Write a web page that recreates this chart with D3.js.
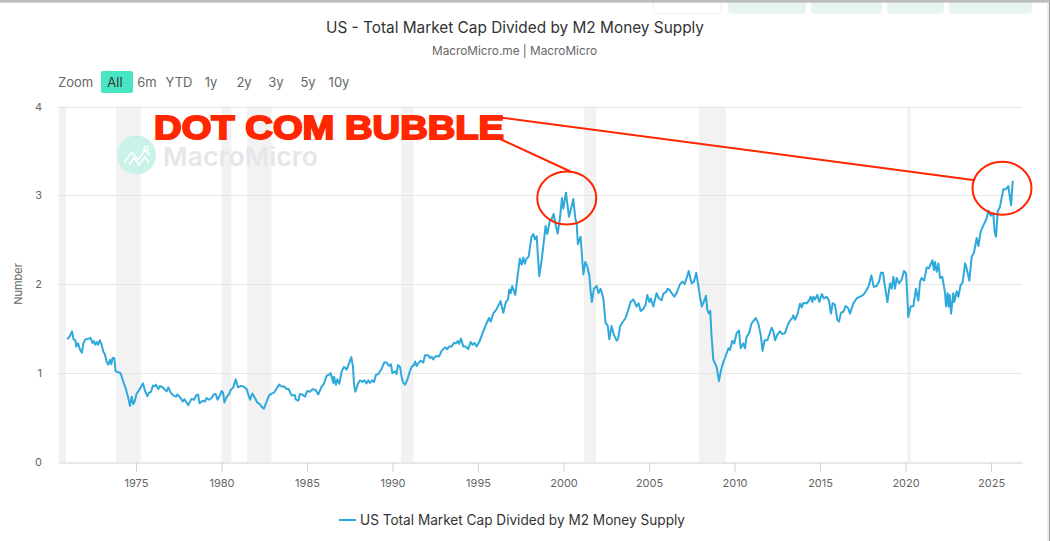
<!DOCTYPE html>
<html>
<head>
<meta charset="utf-8">
<script src="https://cdn.jsdelivr.net/npm/d3@7"></script>
<style>
html,body{margin:0;padding:0;background:#fff;overflow:hidden}
svg{display:block;font-family:Inter,"Liberation Sans",sans-serif}
</style>
</head>
<body>
<svg id="chart" width="1050" height="541"></svg>
<script>
const chartTitle = "US - Total Market Cap Divided by M2 Money Supply";
const chartSource = "MacroMicro.me | MacroMicro";
const seriesName = "US Total Market Cap Divided by M2 Money Supply";
const rangeLabels = ["All","6m","YTD","1y","2y","3y","5y","10y"];
const xTickYears = [1975,1980,1985,1990,1995,2000,2005,2010,2015,2020,2025];
const yTickValues = [0,1,2,3,4];

// US recession periods, as decimal years
const recessions = [[1970.5,1970.9],[1973.83,1975.28],[1980.0,1980.58],[1981.5,1982.92],[1990.5,1991.24],[2001.2,2001.92],[2007.92,2009.5],[2020.1,2020.32]];

const years = [1970.98,1971.14,1971.26,1971.35,1971.45,1971.51,1971.61,1971.72,1971.84,1971.92,1972.04,1972.27,1972.35,1972.45,1972.54,1972.62,1972.72,1972.78,1972.89,1972.99,
1973.09,1973.17,1973.28,1973.38,1973.48,1973.56,1973.63,1973.73,1973.81,1973.97,1974.10,1974.26,1974.38,1974.55,1974.65,1974.75,1974.84,1974.92,1975.04,1975.19,
1975.41,1975.53,1975.66,1975.76,1975.88,1975.99,1976.09,1976.17,1976.31,1976.40,1976.56,1976.70,1976.79,1976.89,1977.03,1977.18,1977.34,1977.42,1977.57,1977.73,
1977.83,1977.96,1978.06,1978.24,1978.39,1978.53,1978.63,1978.72,1978.90,1979.03,1979.13,1979.27,1979.42,1979.54,1979.66,1979.77,1979.91,1980.01,1980.09,1980.17,
1980.30,1980.46,1980.54,1980.69,1980.83,1980.96,1981.12,1981.28,1981.47,1981.67,1981.80,1981.96,1982.09,1982.25,1982.35,1982.48,1982.64,1982.78,1982.93,1983.07,
1983.23,1983.38,1983.52,1983.67,1983.81,1983.93,1984.10,1984.30,1984.34,1984.49,1984.59,1984.73,1984.88,1985.02,1985.17,1985.33,1985.51,1985.66,1985.86,1985.99,
1986.15,1986.27,1986.38,1986.54,1986.58,1986.69,1986.77,1986.89,1987.03,1987.16,1987.32,1987.46,1987.59,1987.69,1987.75,1987.83,1987.98,1988.10,1988.24,1988.35,
1988.47,1988.59,1988.68,1988.82,1988.92,1989.03,1989.17,1989.37,1989.52,1989.66,1989.79,1989.91,1989.99,1990.15,1990.24,1990.32,1990.44,
1990.53,1990.63,1990.73,1990.86,1990.98,1991.12,1991.25,1991.33,1991.41,1991.51,1991.64,1991.80,1991.90,1992.09,1992.19,1992.29,1992.38,1992.52,1992.73,1992.87,
1993.07,1993.20,1993.32,1993.46,1993.59,1993.71,1993.81,1993.89,1994.00,1994.14,1994.27,1994.43,1994.57,1994.68,1994.80,1994.92,1995.07,1995.31,1995.50,1995.64,
1995.74,1995.89,1996.09,1996.32,1996.48,1996.63,1996.75,1996.83,1996.91,1997.00,1997.18,1997.30,1997.45,1997.55,1997.65,1997.74,1997.84,1997.96,1998.13,1998.23,
1998.33,1998.43,1998.52,1998.58,1998.72,1998.86,1998.95,1999.05,1999.21,1999.30,1999.42,1999.54,1999.66,1999.79,1999.91,1999.99,2000.14,2000.32,2000.43,2000.57,
2000.69,2000.77,2000.84,2001.00,2001.16,2001.27,2001.39,2001.51,2001.58,2001.66,2001.78,2001.94,2002.05,2002.17,2002.33,2002.46,2002.58,2002.68,2002.81,2002.95,
2003.11,2003.20,2003.30,2003.44,2003.63,2003.75,2003.92,2004.08,2004.27,2004.39,2004.51,2004.66,2004.80,2004.90,2005.02,2005.11,2005.25,2005.44,2005.58,2005.74,
2005.83,2006.03,2006.09,2006.19,2006.32,2006.48,2006.61,2006.81,2006.96,2007.08,2007.20,2007.32,2007.49,2007.63,2007.76,2007.88,2007.98,2008.09,2008.17,2008.33,
2008.41,2008.50,2008.58,2008.66,2008.76,2008.86,2008.95,2009.09,
2009.21,2009.34,2009.44,2009.64,2009.73,2009.87,2009.99,2010.12,2010.26,2010.36,2010.51,2010.61,2010.71,2010.85,2011.00,2011.24,2011.39,2011.53,2011.64,2011.76,
2011.92,2012.17,2012.27,2012.37,2012.50,2012.66,2012.79,2012.95,2013.11,2013.24,2013.38,2013.44,2013.54,2013.69,2013.83,2013.93,2014.02,2014.22,2014.37,2014.45,
2014.55,2014.61,2014.71,2014.84,2014.96,2015.10,2015.23,2015.39,2015.52,2015.64,2015.74,2015.87,2016.01,2016.11,2016.23,2016.36,2016.50,2016.65,2016.75,2016.95,
2017.14,2017.34,2017.53,2017.73,2017.86,2018.00,2018.14,2018.31,2018.45,2018.56,2018.68,2018.80,2018.94,2019.09,2019.19,2019.29,2019.38,2019.48,2019.62,2019.77,
2019.91,2020.03,2020.10,2020.16,2020.30,2020.46,2020.61,2020.75,2020.85,2020.94,2021.08,2021.24,2021.37,2021.57,2021.66,2021.72,2021.82,2021.92,2022.02,2022.15,
2022.31,2022.37,2022.46,2022.52,2022.58,2022.66,2022.79,2022.85,2022.99,2023.09,2023.22,2023.34,2023.48,2023.57,2023.73,2023.87,2024.00,2024.16,2024.26,2024.39,
2024.59,2024.74,2024.84,2024.98,2025.13,2025.21,2025.29,2025.39,2025.52,2025.72,2025.87,2026.01,2026.17,2026.27];

const ratios = [1.38,1.42,1.47,1.38,1.37,1.30,1.335,1.27,1.23,1.335,1.38,1.39,1.395,1.34,1.36,1.32,1.35,1.32,1.37,1.32,
1.24,1.22,1.13,1.095,1.15,1.10,1.17,1.17,1.02,1.01,1.00,0.90,0.84,0.72,0.63,0.735,0.65,0.68,0.77,0.81,
0.885,0.80,0.74,0.78,0.79,0.86,0.85,0.87,0.82,0.855,0.84,0.81,0.795,0.84,0.78,0.75,0.735,0.76,0.73,0.68,
0.705,0.67,0.64,0.71,0.70,0.75,0.76,0.66,0.69,0.68,0.72,0.70,0.72,0.76,0.765,0.70,0.75,0.80,0.78,0.67,
0.73,0.77,0.81,0.84,0.93,0.84,0.855,0.85,0.82,0.70,0.77,0.72,0.67,0.65,0.62,0.60,0.68,0.75,0.77,0.78,
0.83,0.87,0.85,0.85,0.82,0.82,0.75,0.75,0.705,0.69,0.765,0.76,0.735,0.80,0.79,0.82,0.81,0.76,0.85,0.88,
0.97,0.98,1.00,0.89,0.96,0.87,0.93,0.88,1.02,1.07,1.04,1.11,1.18,1.07,0.87,0.79,0.88,0.92,0.90,0.92,
0.885,0.92,0.89,0.92,0.90,0.98,0.99,1.05,1.12,1.12,1.08,1.10,1.00,1.02,0.99,1.09,1.07,
0.96,0.89,0.87,0.92,1.00,1.07,1.09,1.13,1.08,1.11,1.14,1.12,1.20,1.20,1.17,1.185,1.155,1.19,1.19,1.25,
1.29,1.27,1.30,1.30,1.34,1.335,1.36,1.33,1.39,1.30,1.30,1.27,1.35,1.32,1.34,1.30,1.35,1.47,1.56,1.62,
1.58,1.67,1.72,1.81,1.68,1.80,1.83,1.94,1.90,1.98,1.88,2.07,2.29,2.22,2.30,2.23,2.29,2.31,2.535,2.565,
2.505,2.54,2.27,2.09,2.27,2.50,2.655,2.565,2.72,2.73,2.79,2.67,2.57,2.74,2.97,2.85,3.03,2.76,2.84,2.96,
2.74,2.685,2.45,2.535,2.11,2.25,2.20,2.10,1.935,1.80,1.95,1.98,1.90,1.95,1.84,1.56,1.54,1.38,1.53,1.43,
1.365,1.39,1.52,1.57,1.62,1.69,1.80,1.83,1.75,1.785,1.70,1.72,1.77,1.88,1.80,1.84,1.75,1.90,1.84,1.82,
1.89,1.92,1.95,1.94,1.90,1.86,1.90,2.00,2.03,2.00,2.07,2.15,2.01,2.03,2.13,1.99,1.86,1.75,1.785,1.87,
1.71,1.67,1.70,1.41,1.15,1.11,1.07,0.91,
1.035,1.12,1.17,1.28,1.26,1.365,1.335,1.45,1.48,1.28,1.335,1.28,1.41,1.45,1.56,1.62,1.56,1.43,1.25,1.37,
1.37,1.51,1.47,1.37,1.43,1.47,1.44,1.45,1.54,1.59,1.62,1.65,1.60,1.67,1.78,1.74,1.79,1.785,1.82,1.86,
1.80,1.86,1.83,1.88,1.80,1.89,1.84,1.86,1.82,1.67,1.785,1.77,1.60,1.58,1.68,1.69,1.755,1.73,1.67,1.785,
1.84,1.86,1.88,1.935,1.99,2.10,1.97,1.98,2.03,2.13,2.13,1.97,1.80,2.01,1.95,2.085,1.95,2.07,2.01,2.05,
2.15,2.12,1.88,1.63,1.75,1.755,1.95,1.815,2.03,2.07,2.04,2.19,2.18,2.27,2.16,2.25,2.14,2.235,2.07,2.085,
1.90,1.75,1.90,1.75,1.88,1.67,1.90,1.80,1.92,1.86,1.99,2.02,2.235,2.18,2.04,2.31,2.355,2.52,2.43,2.59,
2.68,2.74,2.83,2.77,2.80,2.59,2.535,2.82,2.87,3.07,3.07,3.105,2.89,3.165];

// Callouts placed in data space: circled peaks, leader lines and the headline
const calloutCircles = [{year:2000.19, value:2.97},{year:2025.64, value:3.08}];
const calloutLines = [
  {from:[1996.17,3.88], to:[2024.06,3.17]},
  {from:[1996.23,3.64], to:[2000.5,3.26]}
];
const calloutText = {label:"DOT COM BUBBLE", year:1976.06, value:3.63};

const W = 1050, H = 541;
const plot = {left:58, right:1022, top:106.5, bottom:462};
const x = d3.scaleLinear().domain([1970.44,2026.81]).range([plot.left,plot.right]);
const y = d3.scaleLinear().domain([0,4]).range([plot.bottom,plot.top]);
const svg = d3.select("#chart");
const RED = "#ff2600";

// Window chrome along the top and right edges
svg.append("rect").attr("width",W).attr("height",H).attr("fill","#fff");
svg.append("rect").attr("x",653.5).attr("y",-6).attr("width",68).attr("height",19.5).attr("rx",4)
  .attr("fill","#fff").attr("stroke","#eeeeee");
[[728,78],[811,71],[887,57],[949,83]].forEach(([bx,bw])=>{
  svg.append("rect").attr("x",bx).attr("y",-6).attr("width",bw).attr("height",20).attr("rx",4).attr("fill","#e8f4f1");
});
svg.append("rect").attr("x",1047).attr("width",2).attr("height",H).attr("fill","#eceef0");
svg.append("rect").attr("x",1049).attr("width",1).attr("height",H).attr("fill","#9a9a9a");
svg.append("rect").attr("width",W).attr("height",2.7).attr("fill","#bdbdbd");

// Recession bands
svg.append("g").selectAll("rect").data(recessions).join("rect")
  .attr("x",d=>x(d[0])).attr("y",plot.top)
  .attr("width",d=>x(d[1])-x(d[0])).attr("height",plot.bottom-plot.top)
  .attr("fill","#f2f2f2");

// Horizontal grid
svg.append("g").selectAll("line").data(yTickValues.filter(v=>v>0)).join("line")
  .attr("x1",plot.left).attr("x2",plot.right)
  .attr("y1",d=>Math.round(y(d))+.5).attr("y2",d=>Math.round(y(d))+.5)
  .attr("stroke","#e6e6e6");

// Watermark
const mark = svg.append("g");
mark.append("circle").attr("cx",136.5).attr("cy",155).attr("r",19.5).attr("fill","#c9f3e9");
mark.append("path").attr("d","M124 163 L132 152 L138 160 L145 150 L150 155 M129 165 L134 158 L139 165 L145 157 L149 163")
  .attr("fill","none").attr("stroke","#fff").attr("stroke-width",1.6);
mark.append("circle").attr("cx",146).attr("cy",148.5).attr("r",2).attr("fill","none").attr("stroke","#fff").attr("stroke-width",1.3);
mark.append("text").attr("x",163).attr("y",166).attr("font-size",26).attr("font-weight",600)
  .attr("fill","#e4e6e9").attr("textLength",155).attr("lengthAdjust","spacingAndGlyphs").text("MacroMicro");

// Axes
const xAxis = d3.axisBottom(x).tickValues(xTickYears).tickFormat(d3.format("d")).tickSize(9).tickSizeOuter(0).tickPadding(8);
const gx = svg.append("g").attr("transform",`translate(0,${plot.bottom+.5})`).call(xAxis);
gx.select(".domain").attr("stroke","#d0d0d0");
gx.selectAll(".tick line").attr("stroke","#d0d0d0");
gx.selectAll("text").attr("fill","#666").attr("font-size",11).attr("font-family","Inter");

const yAxis = d3.axisLeft(y).tickValues(yTickValues).tickFormat(d3.format("d")).tickSize(0).tickPadding(16);
const gy = svg.append("g").attr("transform",`translate(${plot.left},0)`).call(yAxis);
gy.select(".domain").remove();
gy.selectAll("text").attr("fill","#666").attr("font-size",11).attr("font-family","Inter");

svg.append("text").attr("transform","translate(22,284) rotate(-90)").attr("text-anchor","middle")
  .attr("font-size",11).attr("fill","#666").text("Number");

// Series
const line = d3.line().x((d,i)=>x(years[i])).y(d=>y(d)).curve(d3.curveLinear);
svg.append("path").datum(ratios).attr("d",line).attr("fill","none")
  .attr("stroke","#2fa9dc").attr("stroke-width",2).attr("stroke-linejoin","round");

// Titles
svg.append("text").attr("x",515).attr("y",33).attr("text-anchor","middle").attr("font-size",16)
  .attr("fill","#333").attr("textLength",378).attr("lengthAdjust","spacingAndGlyphs").text(chartTitle);
svg.append("text").attr("x",514.5).attr("y",55).attr("text-anchor","middle").attr("font-size",12)
  .attr("fill","#666").attr("textLength",165).attr("lengthAdjust","spacingAndGlyphs").text(chartSource);

// Range selector
svg.append("text").attr("x",58).attr("y",87).attr("font-size",13).attr("fill","#666").text("Zoom");
svg.append("rect").attr("x",101).attr("y",71).attr("width",32).attr("height",22).attr("rx",2).attr("fill","#48e5c2");
const rangeCentres = [115,147,179,211,244,276,308,339];
svg.append("g").selectAll("text").data(rangeLabels).join("text")
  .attr("x",(d,i)=>rangeCentres[i]).attr("y",87).attr("text-anchor","middle").attr("font-size",13)
  .attr("fill",(d,i)=>i===0?"#333":"#666").text(d=>d);

// Legend
svg.append("line").attr("x1",339).attr("x2",356).attr("y1",520).attr("y2",520).attr("stroke","#2fa9dc").attr("stroke-width",2);
svg.append("text").attr("x",360).attr("y",525).attr("font-size",14).attr("fill","#333")
  .attr("textLength",325).attr("lengthAdjust","spacingAndGlyphs").text(seriesName);

// Callouts
const notes = svg.append("g");
notes.selectAll("line").data(calloutLines).join("line")
  .attr("x1",d=>x(d.from[0])).attr("y1",d=>y(d.from[1]))
  .attr("x2",d=>x(d.to[0])).attr("y2",d=>y(d.to[1]))
  .attr("stroke",RED).attr("stroke-width",2);
notes.selectAll("ellipse").data(calloutCircles).join("ellipse")
  .attr("cx",d=>x(d.year)).attr("cy",d=>y(d.value)).attr("rx",29.5).attr("ry",26.5)
  .attr("fill","none").attr("stroke",RED).attr("stroke-width",2);
notes.append("text").attr("x",x(calloutText.year)).attr("y",y(calloutText.value))
  .attr("font-family","'Liberation Sans',sans-serif").attr("font-weight",700).attr("font-size",33.5)
  .attr("fill",RED).attr("stroke",RED).attr("stroke-width",1.9)
  .attr("textLength",350).attr("lengthAdjust","spacingAndGlyphs").text(calloutText.label);
</script>
</body>
</html>
